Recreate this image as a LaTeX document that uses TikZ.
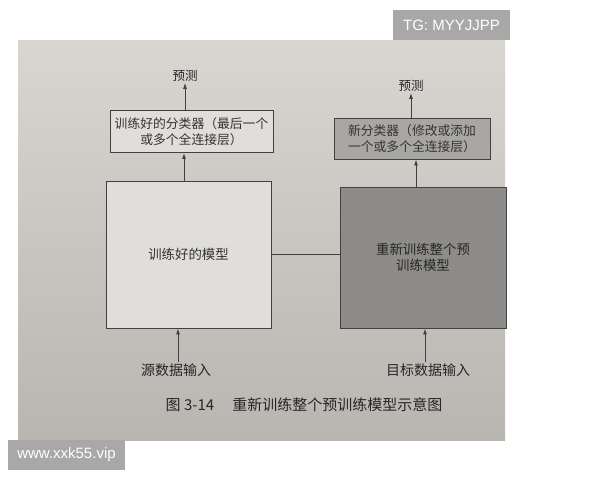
\documentclass[tikz,border=0pt]{standalone}
\usepackage{fontspec}
\newfontfamily\cjk{Noto Sans CJK SC}
\setsansfont{Liberation Sans}
\usetikzlibrary{arrows.meta}
\definecolor{pagetop}{HTML}{D9D6D2}
\definecolor{pagebot}{HTML}{B9B5B0}
\definecolor{lightfill}{HTML}{E0DEDA}
\definecolor{darkfill}{HTML}{8E8C8A}
\definecolor{midfill}{HTML}{A9A7A4}
\definecolor{wmgray}{HTML}{A8A8A8}
\begin{document}
\begin{tikzpicture}[x=1pt,y=-1pt,
 box/.style={draw=black!75, line width=0.9pt, inner sep=0pt, align=center,
   font=\cjk\fontsize{12.8}{15.5}\selectfont, text=black!80},
 lbl/.style={font=\cjk\fontsize{14}{16}\selectfont, text=black!85, inner sep=1pt},
 arr/.style={draw=black!75, line width=0.9pt, -{Latex[length=6pt,width=4pt]}},
 wm/.style={fill=wmgray, text=white, font=\sffamily\fontsize{15}{17}\selectfont,
   inner sep=0pt, minimum height=30pt, minimum width=117pt}
]
\useasboundingbox (0,0) rectangle (600,480);
\fill[white] (0,0) rectangle (600,480);
\shade[top color=pagetop, bottom color=pagebot] (18,40) rectangle (505,440);

\node[box, fill=lightfill, font=\cjk\fontsize{13.4}{16}\selectfont, minimum width=165pt, minimum height=147pt] (lmodel) at (188.5,254.5) {训练好的模型};
\node[box, fill=lightfill, minimum width=163pt, minimum height=42pt] (lcls) at (191.5,131.5) {训练好的分类器（最后一个\\或多个全连接层）};
\node[lbl, font=\cjk\fontsize{12.5}{15}\selectfont] (lpred) at (185,76) {预测};
\node[box, fill=darkfill, text=black!85, font=\cjk\fontsize{13.4}{16}\selectfont, minimum width=166pt, minimum height=141pt] (rmodel) at (423,257.5) {重新训练整个预\\训练模型};
\node[box, fill=midfill, text=black!80, minimum width=156pt, minimum height=41pt] (rcls) at (412,138.5) {新分类器（修改或添加\\一个或多个全连接层）};
\node[lbl, font=\cjk\fontsize{12.5}{15}\selectfont] (rpred) at (411,86) {预测};
\node[lbl] (lin) at (176,370) {源数据输入};
\node[lbl] (rin) at (428,370) {目标数据输入};
\node[lbl, font=\cjk\fontsize{15}{17}\selectfont] (cap) at (304,405) {图 3-14\hspace{1.2em}重新训练整个预训练模型示意图};

\coordinate (la) at (184,0);
\coordinate (lb) at (178,0);
\coordinate (ra) at (416,0);
\coordinate (rb) at (425,0);

\draw[arr] (lpred.south |- lcls.north) -- (lpred.south);
\draw[arr] (la |- lmodel.north) -- (la |- lcls.south);
\draw[arr] (lb |- lin.north) -- (lb |- lmodel.south);
\draw[arr] (rpred.south |- rcls.north) -- (rpred.south);
\draw[arr] (ra |- rmodel.north) -- (ra |- rcls.south);
\draw[arr] (rb |- rin.north) -- (rb |- rmodel.south);
\draw[draw=black!75, line width=0.9pt] (lmodel.east) -- (lmodel.east -| rmodel.west);

\node[wm] (wm1) at (451.5,25) {TG: MYYJJPP};
\node[wm] (wm2) at (66.5,455) {www.xxk55.vip};
\end{tikzpicture}
\end{document}
